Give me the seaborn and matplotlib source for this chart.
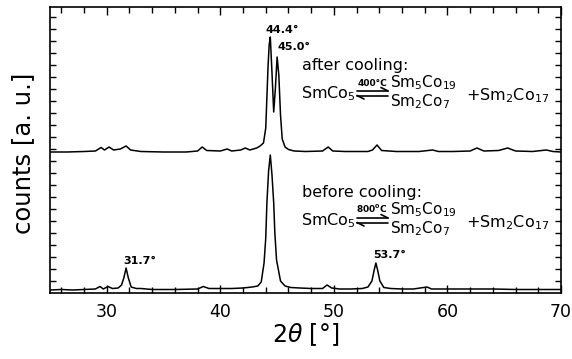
import numpy as np
import pandas as pd
import matplotlib
matplotlib.use("Agg")
import matplotlib.pyplot as plt
import seaborn as sns
from matplotlib.lines import Line2D

# ---------------- data ----------------
two_theta_before = [25.0, 26.0, 27.0, 28.0, 29.0, 29.4, 29.7, 30.1, 30.5, 31.0, 31.3, 31.5, 31.7, 31.9,
                    32.15, 32.6, 33.0, 34.0, 36.0, 38.0, 38.5, 39.0, 40.0, 41.0, 42.0, 42.8, 43.3, 43.6,
                    43.85, 44.0, 44.1, 44.25, 44.4, 44.55, 44.7, 44.8, 44.95, 45.3, 45.7, 46.2, 47.0, 48.0,
                    49.0, 49.4, 49.8, 50.5, 51.5, 52.5, 53.0, 53.35, 53.55, 53.7, 53.85, 54.05, 54.4, 55.0,
                    56.0, 57.0, 58.2, 58.6, 60.0, 62.0, 64.0, 66.0, 68.0, 70.0]
counts_before = [3, 3.5, 3, 3.5, 4, 6.5, 4, 6.5, 4.5, 5, 8, 15, 25, 15,
                 6, 4.5, 4.5, 3.5, 3.5, 4, 6.5, 4.5, 4.5, 4.5, 5, 6, 7, 11,
                 30, 55, 90, 122, 138, 118, 90, 60, 33, 12, 7, 5.5, 5, 4.5,
                 4.5, 8, 5, 4, 4, 4.5, 6, 12, 23, 30, 23, 12, 5.5, 4.5,
                 4, 4, 6, 4, 4, 4, 4, 3.5, 3.5, 3.5]

two_theta_after = [25.0, 26.5, 28.0, 29.0, 29.5, 29.8, 30.2, 30.6, 31.2, 31.7, 32.1, 33.0, 35.0, 37.0,
                   38.0, 38.4, 38.8, 40.0, 40.6, 41.0, 41.8, 42.2, 42.6, 43.2, 43.5, 43.8, 44.0, 44.2,
                   44.3, 44.4, 44.55, 44.7, 44.85, 45.0, 45.15, 45.3, 45.45, 45.7, 46.0, 46.5, 47.5, 49.0,
                   49.5, 49.9, 51.0, 53.0, 53.4, 53.8, 54.2, 55.5, 57.5, 58.7, 59.2, 60.5, 62.0, 62.6,
                   63.2, 64.5, 65.3, 66.0, 67.5, 68.7, 69.3, 70.0]
counts_after = [141, 141, 141.5, 142, 145.5, 143, 146, 143, 144, 147, 143, 141.5, 141, 141,
                142, 146, 142.5, 142, 144, 142, 143, 145, 143, 145, 147, 150, 165, 226,
                248, 256, 220, 181, 205, 236, 218, 178, 154, 146, 143.5, 142, 141.5, 142,
                146, 142, 141.5, 141.5, 143, 148, 142.5, 141.5, 141.5, 143, 141.5, 141.5, 142, 145,
                142, 142.5, 145, 142, 141.5, 143, 141.5, 141]

x_tick_values = [30, 40, 50, 60, 70]
x_tick_labels = ["30", "40", "50", "60", "70"]
peak_labels = ["31.7°", "44.4°", "45.0°", "53.7°"]

df = pd.concat([
    pd.DataFrame({"two_theta": two_theta_before, "counts": counts_before, "trace": "before"}),
    pd.DataFrame({"two_theta": two_theta_after, "counts": counts_after, "trace": "after"}),
], ignore_index=True)

# ---------------- styling ----------------
sns.set_theme(style="ticks")
plt.rcParams["font.family"] = ["DejaVu Sans"]
plt.rcParams["mathtext.default"] = "regular"
plt.rcParams["axes.linewidth"] = 1.2
for k in ["text.color", "axes.labelcolor", "xtick.color", "ytick.color", "axes.edgecolor"]:
    plt.rcParams[k] = "black"

W, H = 572, 359
fig = plt.figure(figsize=(W / 100, H / 100), dpi=100)
L, R, T, B = 50, 561, 7, 293
ax = fig.add_axes([L / W, 1 - B / H, (R - L) / W, (B - T) / H])

sns.lineplot(data=df, x="two_theta", y="counts", units="trace", estimator=None,
             sort=False, color="black", linewidth=1.1, ax=ax, legend=False)

ax.set_xlim(25, 70)
ax.set_ylim(0, B - T)

ax.set_xticks(x_tick_values)
ax.set_xticklabels(x_tick_labels)
ax.set_xticks(np.arange(26, 70, 2), minor=True)
ax.tick_params(axis="x", which="both", direction="in", top=True, bottom=True,
               width=1.0, colors="black")
ax.tick_params(axis="x", which="major", length=6, labelsize=12.5, pad=7)
ax.tick_params(axis="x", which="minor", length=4.5)
ax.set_yticks(np.arange(12, B - T, 12))
ax.tick_params(axis="y", which="both", direction="in", left=True, right=True,
               labelleft=False, length=4, width=1.0, colors="black")

ax.set_xlabel(r"2$\mathit{\theta}$ [°]", fontsize=17, color="black")
ax.xaxis.set_label_coords(0.5, -0.10)
ax.set_ylabel("counts [a. u.]", fontsize=17.5, color="black")
ax.yaxis.set_label_coords(-0.03, 0.49)

for s in ax.spines.values():
    s.set_color("black")


def ftxt(x, y, s, **kw):
    fig.text(x / W, 1 - y / H, s, ha=kw.pop("ha", "left"), va=kw.pop("va", "baseline"),
             color="black", **kw)


def hline(xs, ys, lw=1.0):
    fig.add_artist(Line2D([x / W for x in xs], [1 - y / H for y in ys],
                          transform=fig.transFigure, color="black", lw=lw))


# peak labels
pk = dict(fontsize=8, fontweight="bold")
ftxt(123, 264, peak_labels[0], **pk)
ftxt(266, 33, peak_labels[1], **pk)
ftxt(278, 50, peak_labels[2], **pk)
ftxt(373, 258, peak_labels[3], **pk)

# reaction annotations
fs = 11.5
for dy, title, temp in [(0, "after cooling:", "400°C"), (127, "before cooling:", "800$^0$C")]:
    ftxt(302, 70 + dy, title, fontsize=fs)
    ftxt(301, 98 + dy, "SmCo$_5$", fontsize=fs)
    ftxt(372, 86 + dy, temp, fontsize=6.5, fontweight="bold", ha="center")
    # equilibrium harpoons
    hline([357, 388], [91 + dy, 91 + dy], lw=1.2)
    hline([388, 381], [91 + dy, 87.5 + dy], lw=1.2)
    hline([357, 388], [95.5 + dy, 95.5 + dy], lw=1.2)
    hline([357, 364], [95.5 + dy, 99 + dy], lw=1.2)
    ftxt(390, 87 + dy, "Sm$_5$Co$_{19}$", fontsize=11)
    ftxt(390, 106 + dy, "Sm$_2$Co$_7$", fontsize=11)
    ftxt(466, 100 + dy, "+Sm$_2$Co$_{17}$", fontsize=fs)

fig.savefig("out.png", dpi=100, facecolor="white")
